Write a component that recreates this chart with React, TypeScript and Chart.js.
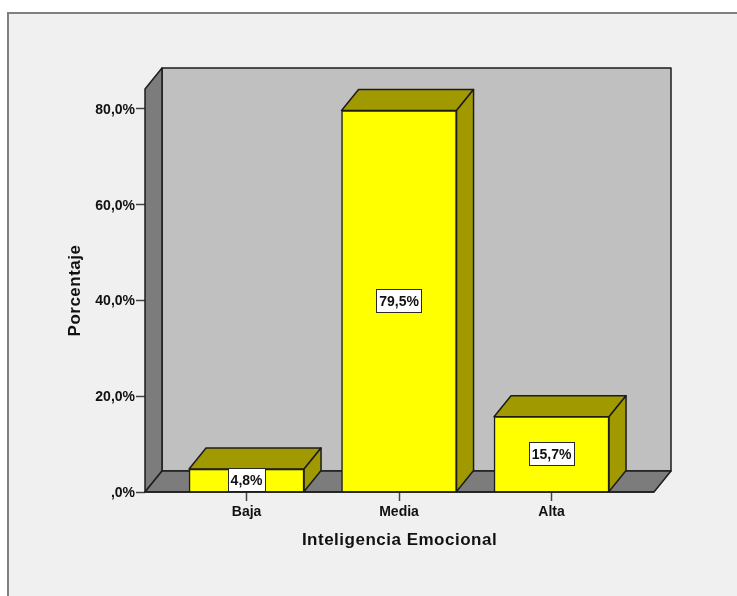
import React, { useEffect, useRef } from "react";
import { Chart, registerables } from "chart.js";

Chart.register(...registerables);

const categories = ["Baja", "Media", "Alta"];
const categoryPositions = [0, 1, 2];
const percentages = [4.8, 79.5, 15.7];
const valueLabels = ["4,8%", "79,5%", "15,7%"];
const yTickValues = [0, 20, 40, 60, 80];
const yMax = 84;
const xMin = -0.666;
const xMax = 2.672;

const DX = 17;
const DY = -21;
const LINE = "#1c1c1c";
const OLIVE = "#a09a00";
const TICK_SPACING = "0px";
const TITLE_SPACING = "0.5px";

function poly(ctx: CanvasRenderingContext2D, pts: number[][], fill: string) {
  ctx.beginPath();
  pts.forEach((p, i) => (i ? ctx.lineTo(p[0], p[1]) : ctx.moveTo(p[0], p[1])));
  ctx.closePath();
  ctx.fillStyle = fill;
  ctx.fill();
  ctx.strokeStyle = LINE;
  ctx.lineWidth = 1.5;
  ctx.lineJoin = "round";
  ctx.stroke();
}

const box3d = {
  id: "box3d",
  beforeDraw(chart: any) {
    const { ctx } = chart;
    (ctx as any).letterSpacing = TICK_SPACING;
    Object.values(chart.scales).forEach((scale: any) => {
      if (scale.__wrapped) return;
      const orig = scale.drawTitle;
      scale.drawTitle = function () {
        (ctx as any).letterSpacing = TITLE_SPACING;
        orig.call(scale);
        (ctx as any).letterSpacing = TICK_SPACING;
      };
      if (scale.axis === "y") {
        const origLabels = scale.drawLabels;
        scale.drawLabels = function (area: any) {
          ctx.save();
          ctx.translate(0, 1.5);
          origLabels.call(scale, area);
          ctx.restore();
        };
      }
      scale.__wrapped = true;
    });
  },
  beforeDatasetsDraw(chart: any) {
    const { ctx, chartArea: a } = chart;
    ctx.save();
    poly(ctx, [[a.left + DX, a.top + DY], [a.right + DX, a.top + DY], [a.right + DX, a.bottom + DY], [a.left + DX, a.bottom + DY]], "#c0c0c0");
    poly(ctx, [[a.left, a.top], [a.left + DX, a.top + DY], [a.left + DX, a.bottom + DY], [a.left, a.bottom]], "#7c7c7c");
    poly(ctx, [[a.left, a.bottom], [a.left + DX, a.bottom + DY], [a.right + DX, a.bottom + DY], [a.right, a.bottom]], "#7c7c7c");
    chart.getDatasetMeta(0).data.forEach((bar: any) => {
      const half = bar.width / 2;
      const l = bar.x - half;
      const r = bar.x + half;
      poly(ctx, [[l, bar.y], [l + DX, bar.y + DY], [r + DX, bar.y + DY], [r, bar.y]], OLIVE);
      poly(ctx, [[r, bar.y], [r + DX, bar.y + DY], [r + DX, bar.base + DY], [r, bar.base]], OLIVE);
    });
    ctx.restore();
  },
  afterDatasetsDraw(chart: any) {
    const { ctx } = chart;
    ctx.save();
    ctx.font = 'bold 14px "Liberation Sans", Arial, sans-serif';
    ctx.textAlign = "center";
    ctx.textBaseline = "middle";
    chart.getDatasetMeta(0).data.forEach((bar: any, i: number) => {
      const text = valueLabels[i];
      const w = Math.round(ctx.measureText(text).width) + 6;
      const h = 24;
      const cy = Math.min((bar.y + bar.base) / 2, bar.base - h / 2);
      const x = Math.round(bar.x - w / 2);
      const y = Math.round(cy - h / 2);
      ctx.fillStyle = "#ffffff";
      ctx.fillRect(x, y, w, h);
      ctx.strokeStyle = "#2a2a2a";
      ctx.lineWidth = 1;
      ctx.strokeRect(x + 0.5, y + 0.5, w - 1, h - 1);
      ctx.fillStyle = "#111111";
      ctx.fillText(text, bar.x, y + h / 2 + 1.5);
    });
    const a = chart.chartArea;
    ctx.beginPath();
    ctx.moveTo(a.left, a.bottom);
    ctx.lineTo(a.right, a.bottom);
    ctx.strokeStyle = LINE;
    ctx.lineWidth = 1.5;
    ctx.stroke();
    ctx.restore();
  },
};

export default function App() {
  const ref = useRef<HTMLCanvasElement>(null);

  useEffect(() => {
    const font = { family: '"Liberation Sans", Arial, sans-serif', weight: "bold" as const, size: 14 };
    const chart = new Chart(ref.current!, {
      type: "bar",
      data: {
        datasets: [
          {
            data: categoryPositions.map((x, i) => ({ x, y: percentages[i] })),
            backgroundColor: "#ffff00",
            borderColor: LINE,
            borderWidth: 1.5,
            barThickness: 115,
          },
        ],
      },
      plugins: [box3d],
      options: {
        responsive: false,
        animation: false,
        layout: { padding: { left: 0, right: 83, top: 89, bottom: 0 } },
        plugins: { legend: { display: false }, tooltip: { enabled: false } },
        scales: {
          x: {
            type: "linear",
            offset: false,
            min: xMin,
            max: xMax,
            afterBuildTicks: (s: any) => {
              s.ticks = categoryPositions.map((value) => ({ value }));
            },
            afterFit: (s: any) => {
              s.height = 104;
            },
            border: { display: false },
            grid: { offset: false, drawOnChartArea: false, tickLength: 9, tickColor: "#444444", tickWidth: 1.5 },
            ticks: {
              color: "#111111",
              font,
              padding: 3,
              maxRotation: 0,
              callback: (v: any) => categories[v] ?? "",
            },
            title: {
              display: true,
              text: "Inteligencia Emocional",
              color: "#111111",
              font: { ...font, size: 17 },
              padding: { top: 0, bottom: 45 },
            },
          },
          y: {
            min: 0,
            max: yMax,
            afterBuildTicks: (s: any) => {
              s.ticks = yTickValues.map((value) => ({ value }));
            },
            afterFit: (s: any) => {
              s.width = 145;
            },
            border: { display: false },
            grid: { drawOnChartArea: false, tickLength: 9, tickColor: "#444444", tickWidth: 1.5 },
            ticks: {
              color: "#111111",
              font,
              padding: 1,
              callback: (v: any) => (v === 0 ? ",0%" : Number(v).toFixed(1).replace(".", ",") + "%"),
            },
            title: {
              display: true,
              text: "Porcentaje",
              color: "#111111",
              font: { ...font, size: 17 },
              padding: { top: 65, bottom: 0 },
            },
          },
        },
      },
    } as any);
    return () => chart.destroy();
  }, []);

  return (
    <div style={{ position: "fixed", left: 0, top: 0, width: 737, height: 596, background: "#ffffff", overflow: "hidden" }}>
      <div
        style={{
          position: "absolute",
          left: 7,
          top: 12,
          width: 740,
          height: 600,
          background: "#f0f0f0",
          border: "2px solid #808080",
          boxSizing: "border-box",
        }}
      />
      <canvas ref={ref} width={737} height={596} style={{ position: "absolute", left: 0, top: 0, display: "block" }} />
    </div>
  );
}
